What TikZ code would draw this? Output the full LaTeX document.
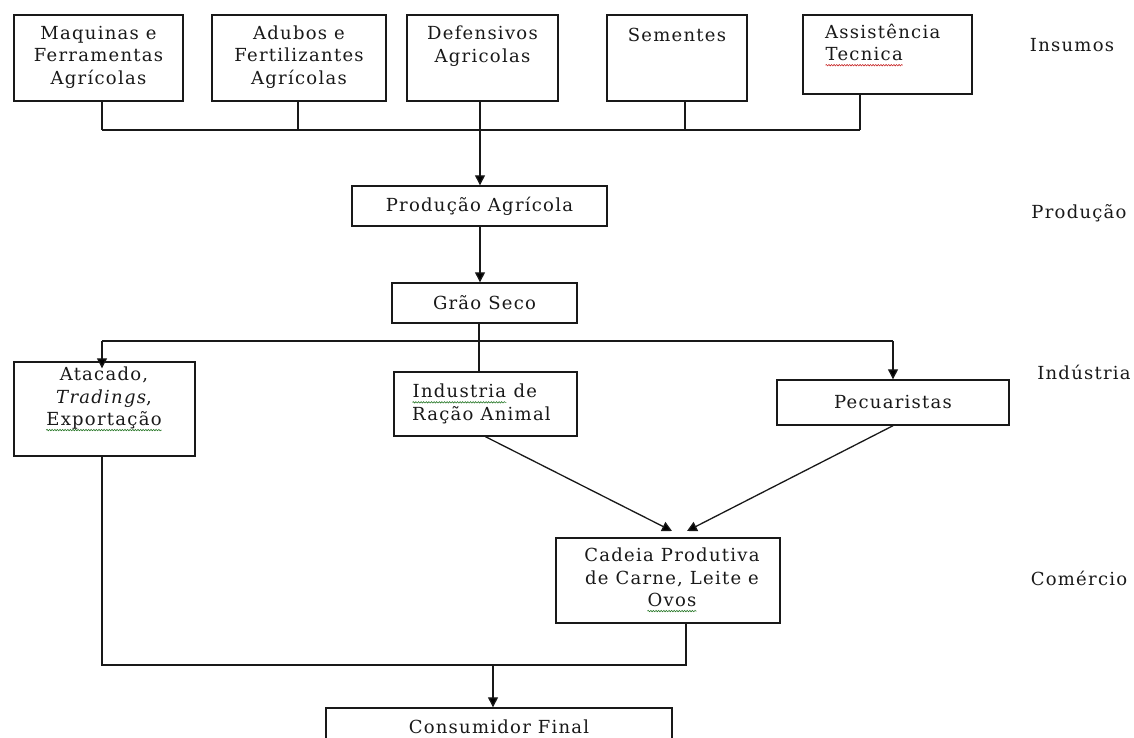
\documentclass[tikz,border=0pt]{standalone}
\usepackage{fontspec}
\setmainfont{DejaVu Serif}[LetterSpace=7]
\usetikzlibrary{arrows.meta,decorations.pathmorphing,calc}
\definecolor{squigred}{RGB}{200,40,40}
\definecolor{squiggreen}{RGB}{40,120,40}
\newcommand\wavy[2]{\tikz[baseline=(wv.base)]{\node[inner sep=0pt,draw=none,fill=none,anchor=base](wv) at (0,0){#2};\draw[#1,line width=0.6pt,decorate,decoration={snake,amplitude=0.7pt,segment length=2.6pt}]([yshift=-4.5pt]wv.base west)--([yshift=-4.5pt]wv.base east);}}
\tikzset{
  box/.style={draw=black!90, line width=1.4pt, rectangle, inner sep=0pt},
  txt/.style={font=\fontsize{18}{22.5}\selectfont, align=center, inner sep=0pt, text=black!90},
  ln/.style={line width=1.3pt, draw=black!90},
  arr/.style={ln, -{Triangle[length=10pt,width=10pt]}}
}
\begin{document}
\begin{tikzpicture}[x=1pt,y=-1pt]
\clip (0,0) rectangle (1134,738);
\fill[white] (0,0) rectangle (1134,738);
% top boxes
\node[box, minimum width=169, minimum height=86] (b1) at (98.5,58) {};
\node[box, minimum width=174, minimum height=86] (b2) at (299,58) {};
\node[box, minimum width=151, minimum height=86] (b3) at (482.5,58) {};
\node[box, minimum width=140, minimum height=86] (b4) at (677,58) {};
\node[box, minimum width=169, minimum height=79] (b5) at (887.5,54.5) {};
\node[txt] (t1) at (98.5,57) {Maquinas e\\Ferramentas\\Agrícolas};
\node[txt] (t2) at (299,57) {Adubos e\\Fertilizantes\\Agrícolas};
\node[txt] (t3) at (482.5,46) {Defensivos\\Agricolas};
\node[txt] (t4) at (677,35) {Sementes};
\node[txt, align=left, anchor=west] (t5) at (825,45) {Assistência\\\wavy{squigred}{Tecnica}};
% side labels
\node[txt] (l1) at (1072,45) {Insumos};
\node[txt] (l2) at (1079,213) {Produção};
\node[txt] (l3) at (1084,372) {Indústria};
\node[txt] (l4) at (1079,578) {Comércio};
% bus
\coordinate (j1) at (102,130);
\coordinate (j2) at (298,130);
\coordinate (j3) at (480,130);
\coordinate (j4) at (685,130);
\coordinate (j5) at (860,130);
\draw[ln] (b1.south -| j1) -- (j1);
\draw[ln] (b2.south -| j2) -- (j2);
\draw[ln] (b3.south -| j3) -- (j3);
\draw[ln] (b4.south -| j4) -- (j4);
\draw[ln] (b5.south -| j5) -- (j5);
\draw[ln] (j1) -- (j5);
% production
\node[box, minimum width=255, minimum height=40, txt] (prod) at (479.5,206) {Produção Agrícola};
\node[box, minimum width=185, minimum height=40, txt] (grao) at (484.5,303) {Grão Seco};
\draw[arr] (j3) -- (j3 |- prod.north);
\draw[arr] (prod.south -| j3) -- (j3 |- grao.north);
% industry
\node[box, minimum width=181, minimum height=94] (atac) at (104.5,409) {};
\node[txt] (tatac) at (104,399) {Atacado,\\\textit{Tradings},\\\wavy{squiggreen}{Exportação}};
\node[box, minimum width=183, minimum height=64] (ind) at (485.5,404) {};
\node[txt, align=left, anchor=west] (tind) at (412,404) {\wavy{squiggreen}{Industria} de\\Ração Animal};
\node[box, minimum width=232, minimum height=45, txt] (pec) at (893,402.5) {Pecuaristas};
\coordinate (g) at (479,341);
\coordinate (k1) at (102,341);
\coordinate (k2) at (893,341);
\draw[ln] (grao.south -| g) -- (ind.north -| g);
\draw[ln] (k1) -- (k2);
\draw[arr] (k1) -- ($(k1 |- atac.north)+(0,7)$);
\draw[arr] (k2) -- (k2 |- pec.north);
% commerce
\node[box, minimum width=224, minimum height=85] (cad) at (668,580.5) {};
\node[txt] (tcad) at (672,580) {Cadeia Produtiva\\de Carne, Leite e\\\wavy{squiggreen}{Ovos}};
\coordinate (ca) at (672,531);
\coordinate (cb) at (687,531);
\draw[arr] (ind.south) -- (ca);
\draw[arr] (pec.south) -- (cb);
% final
\node[box, minimum width=346, minimum height=46] (cons) at (499,731) {};
\node[txt] (tcons) at (499,727) {Consumidor Final};
\coordinate (m1) at (102,665);
\coordinate (m2) at (686,665);
\coordinate (m3) at (493,665);
\draw[ln] (atac.south -| m1) -- (m1) -- (m2) -- (cad.south -| m2);
\draw[arr] (m3) -- (m3 |- cons.north);
\end{tikzpicture}
\end{document}
